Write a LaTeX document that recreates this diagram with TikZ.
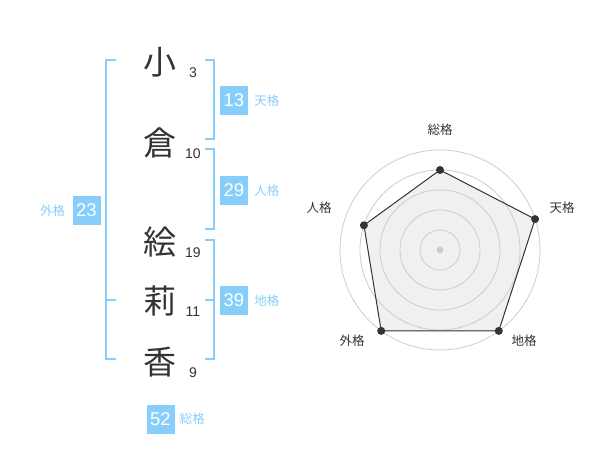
\documentclass[tikz,border=0pt]{standalone}
\usepackage{fontspec}
\setmainfont{Liberation Sans}
\newfontfamily\jpfont{Noto Sans CJK JP}
\usepackage{xcolor}
\usetikzlibrary{positioning,calc}
\definecolor{skyblue}{HTML}{87CEFA}
\definecolor{inkgray}{HTML}{333333}
\definecolor{ringgray}{HTML}{CCCCCC}
\definecolor{areagray}{HTML}{F0F0F0}
\tikzset{
    kanji/.style={text=inkgray, inner sep=0pt, font=\jpfont\fontsize{33}{33}\selectfont},
    strokes/.style={text=inkgray, inner sep=0pt, font=\fontsize{14}{14}\selectfont},
    scorebox/.style={fill=skyblue, text=white, minimum width=28pt, minimum height=29pt, inner sep=0pt, font=\fontsize{18.5}{18.5}\selectfont},
    scorelabel/.style={text=skyblue, inner sep=0pt, font=\jpfont\fontsize{12.5}{12.5}\selectfont},
    axislabel/.style={text=inkgray, inner sep=0pt, font=\jpfont\fontsize{12.5}{12.5}\selectfont},
    bracket/.style={draw=skyblue, line width=2pt},
}

\begin{document}
\begin{tikzpicture}[x=1pt, y=-1pt]
    \useasboundingbox (0,0) rectangle (600,470);

    % Name and stroke counts
    \foreach \y/\kan/\num/\id in {62/小/3/ko, 143/倉/10/kura, 242/絵/19/e, 301/莉/11/ri, 362/香/9/ka} {
        \node[kanji] (kanji-\id) at (160, \y) {\kan};
        \node[strokes] (num-\id) at (193, \y+11) {\num};
    }

    % Brackets
    \draw[bracket] (116,60) -- (106,60) -- (106,359) -- (116,359);
    \draw[bracket] (106,300) -- (116,300);
    \draw[bracket] (205,60) -- (214,60) -- (214,139) -- (205,139);
    \draw[bracket] (205,149) -- (214,149) -- (214,229) -- (205,229);
    \draw[bracket] (205,240) -- (214,240) -- (214,359) -- (205,359);
    \draw[bracket] (205,300) -- (214,300);

    % Scores
    \node[scorebox] (ten) at (234,100.5) {13};
    \node[scorelabel, right=6pt of ten] (ten-label) {天格};
    \node[scorebox] (jin) at (234,190.5) {29};
    \node[scorelabel, right=6pt of jin] (jin-label) {人格};
    \node[scorebox] (chi) at (234,300.5) {39};
    \node[scorelabel, right=6pt of chi] (chi-label) {地格};
    \node[scorebox] (gai) at (86.5,210.5) {23};
    \node[scorelabel, left=7pt of gai] (gai-label) {外格};
    \node[scorebox] (sou) at (160.5,419) {52};
    \node[scorelabel, right=5pt of sou] (sou-label) {総格};

    % Radar chart
    \begin{scope}[shift={(440,250)}, yscale=-1]
        \coordinate (pt-sou) at (90:80);
        \coordinate (pt-ten) at (18:100);
        \coordinate (pt-chi) at (-54:100);
        \coordinate (pt-gai) at (-126:100);
        \coordinate (pt-jin) at (162:80);
        \fill[areagray] (pt-sou) -- (pt-ten) -- (pt-chi) -- (pt-gai) -- (pt-jin) -- cycle;
        \foreach \r in {20,40,...,100}
            \draw[ringgray, line width=0.8pt] (0,0) circle (\r);
        \fill[ringgray] (0,0) circle (3.5);
        \draw[inkgray, line width=1pt, line join=round] (pt-sou) -- (pt-ten) -- (pt-chi) -- (pt-gai) -- (pt-jin) -- cycle;
        \foreach \p in {sou,ten,chi,gai,jin}
            \fill[inkgray] (pt-\p) circle (4);
        \node[axislabel] (ax-sou) at (0,120) {総格};
        \node[axislabel] (ax-ten) at (122,42) {天格};
        \node[axislabel] (ax-jin) at (-121,42) {人格};
        \node[axislabel] (ax-gai) at (-88,-91) {外格};
        \node[axislabel] (ax-chi) at (84,-91) {地格};
    \end{scope}
\end{tikzpicture}
\end{document}
